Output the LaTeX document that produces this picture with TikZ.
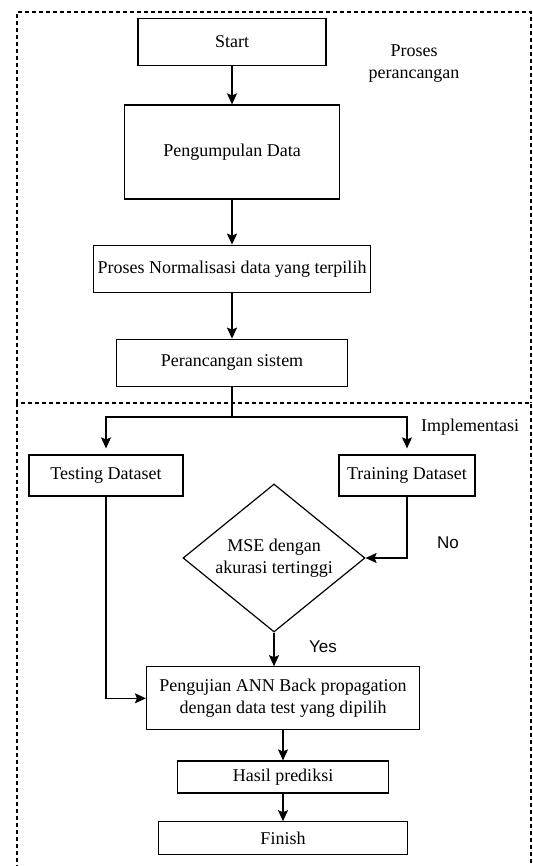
\documentclass[tikz,border=0pt]{standalone}
\usepackage{fontspec}
\setmainfont{Liberation Serif}
\newfontfamily\labelsans{Liberation Sans}
\usetikzlibrary{positioning, arrows.meta, shapes.geometric}

\begin{document}
\begin{tikzpicture}[x=1pt, y=-1pt,
    % Styles
    every node/.style={font=\fontsize{18}{22}\selectfont},
    process/.style={draw=black, line width=1.2pt, inner sep=0pt, align=center},
    decision/.style={draw=black, line width=1.2pt, diamond, inner sep=0pt, align=center, aspect=1.23, minimum width=182pt, minimum height=148pt},
    flow-arrow/.style={-{Stealth[length=11pt, width=10pt, inset=2pt]}, line width=1.3pt},
    frame/.style={dash pattern=on 4pt off 3pt, line width=1.4pt, black},
    answer/.style={font=\labelsans\fontsize{17}{20}\selectfont},
]

\clip (0,0) rectangle (532,866);

% Frames
\draw[frame] (17,403) -- (17,12) -- (531,12) -- (531,403);
\draw[frame] (17,403) rectangle (531,880);

% UPPER PART: design process
\node[process, minimum width=188pt, minimum height=47pt] (start) at (232,42) {Start};
\node[process, minimum width=215pt, minimum height=94pt] (collect) at (232,152) {Pengumpulan Data};
\node[process, minimum width=277pt, minimum height=47pt] (normal) at (232,268.7) {Proses Normalisasi data yang terpilih};
\node[process, minimum width=231pt, minimum height=47pt] (design) at (232,362.7) {Perancangan sistem};
\node[align=center] (design-label) at (414,64) {Proses\\perancangan};

\draw[flow-arrow] (start) -- (collect);
\draw[flow-arrow] (collect) -- (normal);
\draw[flow-arrow] (normal) -- (design);

% LOWER PART: implementation
\node (impl-label) at (470,427) {Implementasi};
\node[process, minimum width=154pt, minimum height=41pt] (testing) at (106,475.5) {Testing Dataset};
\node[process, minimum width=136pt, minimum height=41pt] (training) at (407,475.5) {Training Dataset};
\node[decision] (mse) at (274,558) {MSE dengan\\akurasi tertinggi};
\node[process, minimum width=273pt, minimum height=63pt] (test) at (283,698.3) {Pengujian ANN Back propagation\\dengan data test yang dipilih};
\node[process, minimum width=211pt, minimum height=32pt] (result) at (283,777) {Hasil prediksi};
\node[process, minimum width=249pt, minimum height=33pt] (finish) at (283,838.3) {Finish};

% Split into the two datasets
\coordinate (split) at (232,417);
\draw[line width=1.3pt] (design) -- (split);
\draw[flow-arrow, shorten >=6pt] (split) -| (testing.north);
\draw[flow-arrow, shorten >=6pt] (split) -| (training.north);

% Training loop and test path
\draw[flow-arrow] (training) |- (mse.east);
\node[answer] (no-label) at (448,543) {No};
\draw[flow-arrow] (testing) |- (test.west);
\draw[flow-arrow] (mse.south) -- (mse.south |- test.north);
\node[answer] (yes-label) at (323,647) {Yes};

\draw[flow-arrow] (test.south -| result.north) -- (result);
\draw[flow-arrow] (result) -- (finish);

\end{tikzpicture}
\end{document}
